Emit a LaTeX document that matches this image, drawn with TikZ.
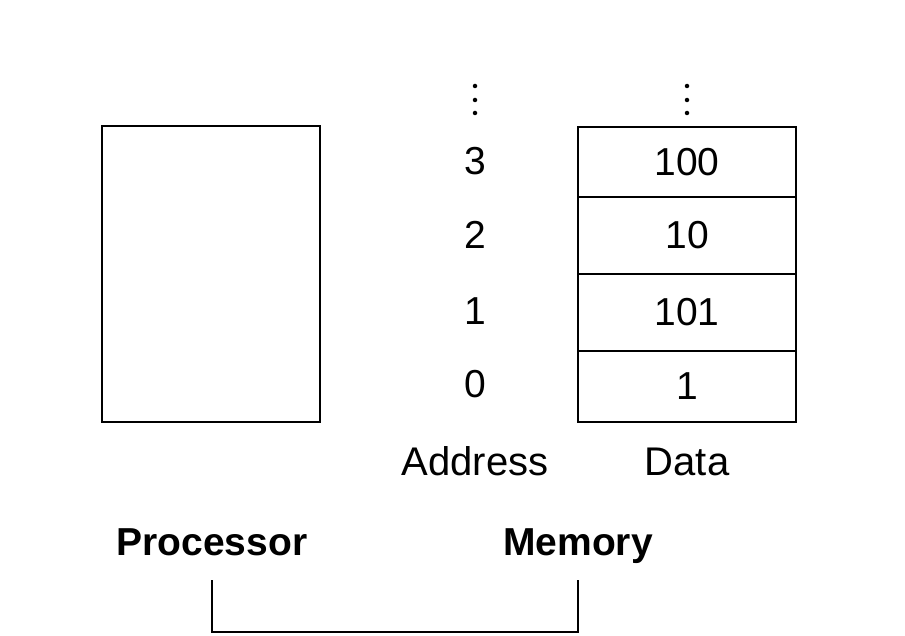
\documentclass[tikz,border=0pt]{standalone}
\usepackage{fontspec}
\setmainfont{Liberation Sans}
\begin{document}
\begin{tikzpicture}[x=1pt,y=-1pt,
  box/.style={draw=black,line width=2pt,inner sep=0pt,minimum width=218pt},
  txt/.style={inner sep=0pt,font=\fontsize{39}{45}\selectfont},
  lbl/.style={inner sep=0pt,anchor=base,font=\fontsize{40}{46}\selectfont},
  bold/.style={inner sep=0pt,anchor=base,font=\fontsize{39}{45}\selectfont\bfseries},
  dot/.style={circle,fill=black,inner sep=0pt,minimum size=4.5pt},
  wire/.style={draw=black,line width=2pt}]
\useasboundingbox (0,0) rectangle (905,636);
\fill[white] (0,0) rectangle (905,636);
% processor box
\node[box,minimum height=296pt] (proc) at (211,274) {};
% memory cells
\node[box,minimum height=70.3pt,txt] (c3) at (687,161.85) {100};
\node[box,minimum height=77pt,txt] (c2) at (687,235.5) {10};
\node[box,minimum height=77pt,txt] (c1) at (687,312.5) {101};
\node[box,minimum height=70.7pt,txt] (c0) at (687,386.35) {1};
% addresses
\node[txt] (a3) at (475,161.5) {3};
\node[txt] (a2) at (475,235) {2};
\node[txt] (a1) at (475,311.5) {1};
\node[txt] (a0) at (475,384.5) {0};
% dots
\node[dot] (ad1) at (475,86) {};
\node[dot] (ad2) at (475,100) {};
\node[dot] (ad3) at (475,113) {};
\node[dot] (dd1) at (687,86) {};
\node[dot] (dd2) at (687,100) {};
\node[dot] (dd3) at (687,113) {};
% labels
\node[lbl] (addr) at (475,475) {Address};
\node[lbl] (data) at (687,475) {Data};
\node[bold] (plabel) at (212,555) {Processor};
\node[bold] (mlabel) at (578,555) {Memory};
% bus
\coordinate (pt) at (212,580);
\coordinate (mt) at (578,580);
\draw[wire] (pt) -- ++(0,52) -| (mt);
\end{tikzpicture}
\end{document}
